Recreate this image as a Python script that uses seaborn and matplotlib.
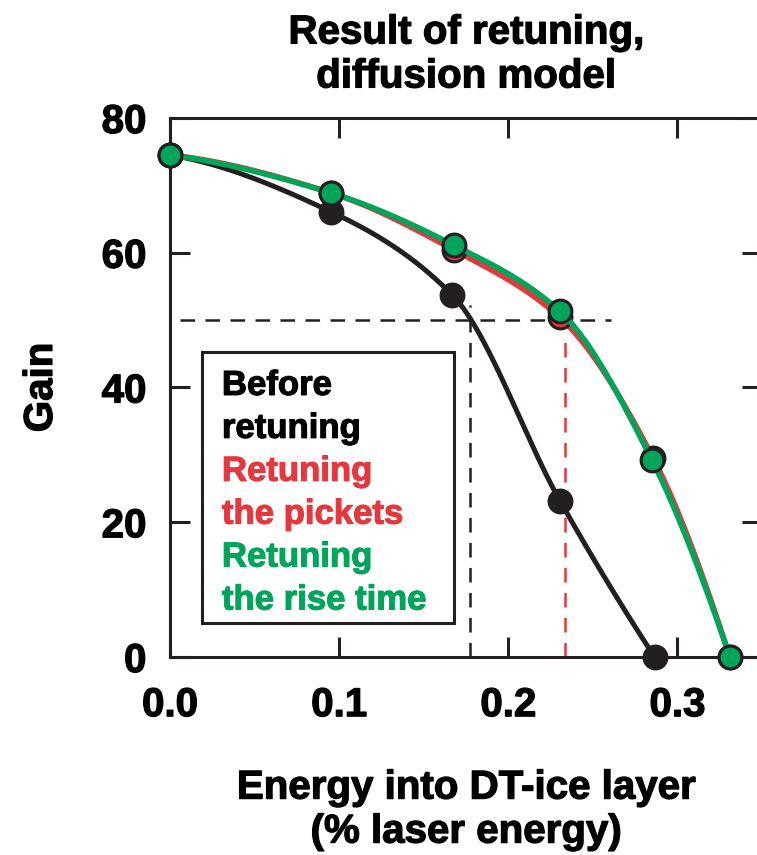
import matplotlib
matplotlib.use("Agg")
import matplotlib.pyplot as plt
import matplotlib.patheffects as pe
import numpy as np
import pandas as pd
import seaborn as sns

# values
energy_before = [0.0, 0.095, 0.167, 0.2305, 0.2865]
gain_before = [74.5, 66.1, 53.7, 23.2, 0.0]
energy_pickets = [0.0, 0.095, 0.168, 0.2305, 0.2855, 0.331]
gain_pickets = [74.5, 68.9, 60.4, 50.4, 29.6, 0.0]
energy_rise = [0.0, 0.095, 0.168, 0.2305, 0.285, 0.331]
gain_rise = [74.5, 68.9, 61.1, 51.3, 29.2, 0.0]
legend_lines = ["Before", "retuning", "Retuning", "the pickets", "Retuning", "the rise time"]
title = "Result of retuning,\ndiffusion model"
xlabel = "Energy into DT-ice layer\n(% laser energy)"
ylabel = "Gain"
gain_ref = 50
energy_at_ref_before = 0.1774
energy_at_ref_pickets = 0.2335

BLACK = "#231F20"
RED = "#E5383E"
GREEN = "#00A55A"
FS = 29
FS_LEG = 25


def end_slope(h0, h1, d0, d1):
    m = ((2 * h0 + h1) * d0 - h0 * d1) / (h0 + h1)
    if np.sign(m) != np.sign(d0):
        m = 0.0
    elif np.sign(d0) != np.sign(d1) and abs(m) > abs(3 * d0):
        m = 3 * d0
    return m


def smooth(x, y, n=300):
    # monotone cubic (pchip style), only used to draw the curve through the points
    x = np.asarray(x, float)
    y = np.asarray(y, float)
    h = np.diff(x)
    d = np.diff(y) / h
    m = np.zeros_like(y)
    m[0] = end_slope(h[0], h[1], d[0], d[1])
    m[-1] = end_slope(h[-1], h[-2], d[-1], d[-2])
    for i in range(1, len(y) - 1):
        if d[i - 1] * d[i] > 0:
            w1 = 2 * h[i] + h[i - 1]
            w2 = h[i] + 2 * h[i - 1]
            m[i] = (w1 + w2) / (w1 / d[i - 1] + w2 / d[i])
    xs = np.linspace(x[0], x[-1], n)
    k = np.clip(np.searchsorted(x, xs) - 1, 0, len(x) - 2)
    t = (xs - x[k]) / h[k]
    h00 = 2 * t**3 - 3 * t**2 + 1
    h10 = t**3 - 2 * t**2 + t
    h01 = -2 * t**3 + 3 * t**2
    h11 = t**3 - t**2
    ys = h00 * y[k] + h10 * h[k] * m[k] + h01 * y[k + 1] + h11 * h[k] * m[k + 1]
    return pd.DataFrame({"x": xs, "y": ys})


sns.set_theme(style="ticks")
plt.rcParams["font.family"] = ["Liberation Sans", "DejaVu Sans"]
plt.rcParams["font.weight"] = "bold"
plt.rcParams["text.color"] = "black"
plt.rcParams["axes.labelcolor"] = "black"
plt.rcParams["lines.scale_dashes"] = False

heavy = [pe.withStroke(linewidth=0.9, foreground="black")]

fig = plt.figure(figsize=(7.57, 8.55), dpi=100)
ax = fig.add_axes([170 / 757, 1 - 657 / 855, (762 - 170) / 757, (657 - 118) / 855])

# reference lines at gain 50
ax.plot([0.006, 0.261], [gain_ref, gain_ref], color=BLACK, lw=1.8, dashes=(10.5, 7.5), zorder=1)
ax.plot([energy_at_ref_before] * 2, [0, 52.3], color=BLACK, lw=1.8, dashes=(10.5, 7.5), zorder=1)
ax.plot([energy_at_ref_pickets] * 2, [0, 48], color=RED, lw=1.8, dashes=(10.5, 7.5), zorder=1)

series = [
    (energy_before, gain_before, BLACK, 3.6, 2),
    (energy_pickets, gain_pickets, RED, 4.0, 4),
    (energy_rise, gain_rise, GREEN, 4.0, 6),
]
for xs, ys, col, lw, z in series:
    curve = smooth(xs, ys)
    sns.lineplot(data=curve, x="x", y="y", color=col, lw=lw, ax=ax, zorder=z, sort=False)
    pts = pd.DataFrame({"x": xs, "y": ys})
    sns.scatterplot(data=pts, x="x", y="y", color=col, s=270, edgecolor=BLACK,
                    linewidth=2.2, ax=ax, zorder=z + 1, clip_on=False)

ax.set_xlim(0, 0.35)
ax.set_ylim(0, 80)
ax.set_xticks([0.0, 0.1, 0.2, 0.3])
ax.set_xticklabels(["0.0", "0.1", "0.2", "0.3"])
ax.set_yticks([0, 20, 40, 60, 80])
ax.tick_params(direction="in", length=14.5, width=2.2, color=BLACK, labelsize=FS,
               top=True, right=True, labelcolor="black")
ax.tick_params(axis="x", pad=21)
ax.tick_params(axis="y", pad=17)
for lab in ax.get_xticklabels() + ax.get_yticklabels():
    lab.set_path_effects(heavy)
for sp in ax.spines.values():
    sp.set_linewidth(2.2)
    sp.set_color(BLACK)
    sp.set_visible(True)

ax.set_xlabel(xlabel, fontsize=FS, fontweight="bold", labelpad=32, linespacing=1.2,
              path_effects=heavy)
ax.set_ylabel(ylabel, fontsize=FS, fontweight="bold", labelpad=30, path_effects=heavy)
ax.set_title(title, fontsize=FS, fontweight="bold", pad=22, linespacing=1.2,
             path_effects=heavy)

# legend box with coloured text
box = plt.Rectangle((0.0187, 5.1), 0.168 - 0.0187, 45.3 - 5.1, fill=False,
                    edgecolor=BLACK, lw=2.2, zorder=3)
ax.add_patch(box)
colors = ["black", "black", RED, RED, GREEN, GREEN]
for i, (txt, col) in enumerate(zip(legend_lines, colors)):
    ax.text(0.0307, 38.9 - i * 6.37, txt, color=col, fontsize=FS_LEG, fontweight="bold",
            va="baseline", ha="left", zorder=3,
            path_effects=[pe.withStroke(linewidth=0.8, foreground=col)])

fig.savefig("out.png", dpi=100)
